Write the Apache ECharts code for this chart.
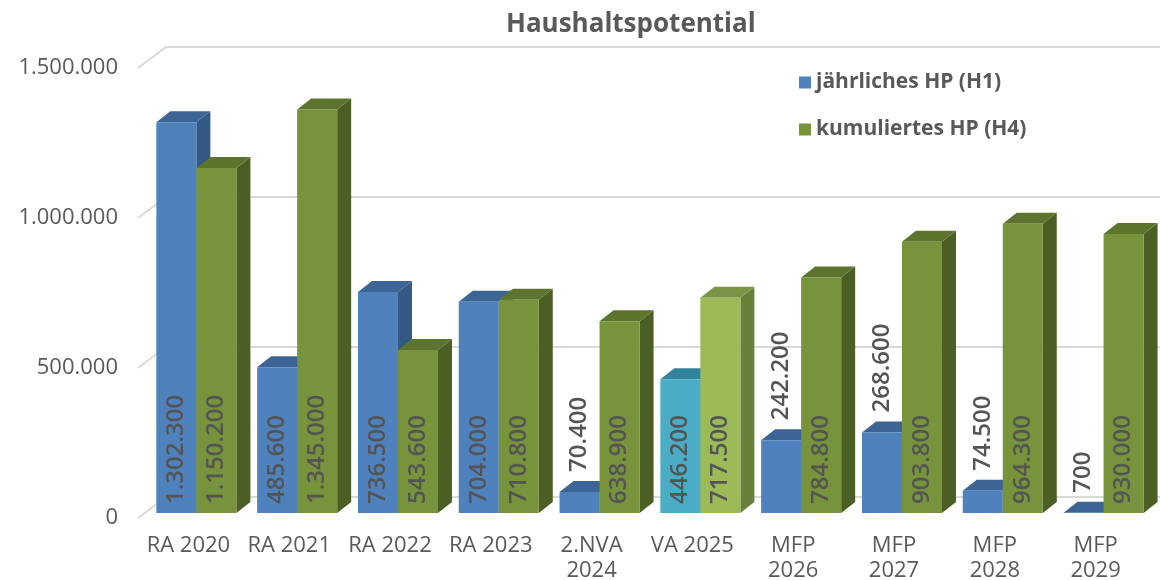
<!DOCTYPE html>
<html>
<head>
<meta charset="utf-8">
<title>Haushaltspotential</title>
<script src="https://cdn.jsdelivr.net/npm/echarts@6/dist/echarts.min.js"></script>
<style>
  html, body { margin: 0; padding: 0; background: #ffffff; }
  #chart { width: 1160px; height: 580px; }
</style>
</head>
<body>
<div id="chart"></div>
<script>
// Haushaltspotential: 3D-look grouped bars, drawn with custom series so the
// faces (front / side / top) follow the axis scale. ES5 only.
var categories = ['RA 2020', 'RA 2021', 'RA 2022', 'RA 2023', '2.NVA\n2024', 'VA 2025',
                  'MFP\n2026', 'MFP\n2027', 'MFP\n2028', 'MFP\n2029'];
var annualHP = [1302300, 485600, 736500, 704000, 70400, 446200, 242200, 268600, 74500, 700];
var cumulativeHP = [1150200, 1345000, 543600, 710800, 638900, 717500, 784800, 903800, 964300, 930000];
var yTicks = [0, 500000, 1000000, 1500000];
var seriesNames = ['jährliches HP (H1)', 'kumuliertes HP (H4)'];

(function () {
    var FONT = '"Open Sans", "DejaVu Sans", sans-serif';
    var TEXT = '#595959';
    var DEPTH_X = 14, DEPTH_Y = -11;      // bar depth
    var WALL_X = 28, WALL_Y = -21;        // back wall offset
    var LIFT = -5;                        // bars sit a bit behind the front plane
    var HIGHLIGHT = 5;                    // VA 2025 uses the lighter palette

    // [front, top, side]
    var palettes = [
        { normal: ['#4f81bd', '#3c6495', '#345985'], light: ['#4bacc6', '#31849b', '#2c768b'] },
        { normal: ['#77933c', '#5c742e', '#4b5f25'], light: ['#9bbb59', '#7a9545', '#67803a'] }
    ];

    function de(n) {
        return String(n).replace(/\B(?=(\d{3})+(?!\d))/g, '.');
    }

    function toPairs(arr) {
        var out = [];
        for (var i = 0; i < arr.length; i++) out.push([i, arr[i]]);
        return out;
    }

    function barRenderer(sIdx) {
        return function (params, api) {
            var i = api.value(0);
            var v = api.value(1);
            var base = api.coord([i, 0]);
            var top = api.coord([i, v]);
            var cw = api.size([1, 0])[0];
            var bw = cw * 0.397;
            var shift = cw * 0.079;
            var L = sIdx === 0 ? base[0] - bw + shift : base[0] + shift;
            var R = L + bw;
            var B = base[1] + LIFT;
            var T = top[1] + LIFT;
            var pal = i === HIGHLIGHT ? palettes[sIdx].light : palettes[sIdx].normal;
            var children = [
                { type: 'polygon', shape: { points: [[R, T], [R + DEPTH_X, T + DEPTH_Y], [R + DEPTH_X, B + DEPTH_Y], [R, B]] },
                  style: { fill: pal[2] } },
                { type: 'polygon', shape: { points: [[L, T], [R, T], [R + DEPTH_X, T + DEPTH_Y], [L + DEPTH_X, T + DEPTH_Y]] },
                  style: { fill: pal[1] } },
                { type: 'rect', shape: { x: L, y: T, width: bw, height: Math.max(B - T, 0) },
                  style: { fill: pal[0] } }
            ];
            var h = B - T;
            var ly = h > 110 ? B - 9 : T - 20;
            children.push({
                type: 'text', x: (L + R) / 2, y: ly, rotation: Math.PI / 2, z2: 20,
                style: { text: de(v), fill: '#545454', font: '600 24px ' + FONT, align: 'left', verticalAlign: 'middle' }
            });
            return { type: 'group', children: children };
        };
    }

    function wallRenderer(params, api) {
        var cs = params.coordSys;
        var y = api.coord([0, api.value(1)])[1];
        return {
            type: 'polyline',
            shape: { points: [[cs.x, y], [cs.x + WALL_X, y + WALL_Y], [cs.x + cs.width + 60, y + WALL_Y]] },
            style: { stroke: '#d9d9d9', lineWidth: 2, fill: null }
        };
    }

    var chart = echarts.init(document.getElementById('chart'), null, { renderer: 'canvas' });
    chart.setOption({
        animation: false,
        backgroundColor: '#ffffff',
        title: {
            text: 'Haushaltspotential',
            left: 501, top: 7,
            textStyle: { fontFamily: FONT, fontSize: 26, fontWeight: 'bold', color: TEXT }
        },
        legend: {
            orient: 'vertical',
            left: 794, top: 65,
            itemWidth: 12, itemHeight: 12, itemGap: 22,
            icon: 'rect',
            data: seriesNames,
            textStyle: { fontFamily: FONT, fontSize: 21, fontWeight: 'bold', color: TEXT, lineHeight: 25 }
        },
        grid: { left: 138, right: 14, top: 68, bottom: 62, containLabel: false, outerBoundsMode: 'none' },
        xAxis: {
            type: 'category',
            data: categories,
            axisLine: { show: false },
            axisTick: { show: false },
            splitLine: { show: false },
            axisLabel: { interval: 0, margin: 15, fontFamily: FONT, fontSize: 22, color: TEXT, lineHeight: 25 }
        },
        yAxis: {
            type: 'value',
            min: 0, max: 1500000, interval: 500000,
            axisLine: { show: false },
            axisTick: { show: false },
            splitLine: { show: false },
            axisLabel: {
                margin: 20, fontFamily: FONT, fontSize: 22, color: TEXT, padding: [5, 0, 0, 0],
                formatter: function (v) { return de(v); }
            }
        },
        series: [
            { type: 'custom', name: 'wall', silent: true, z: 1, clip: false,
              renderItem: wallRenderer, data: toPairs(yTicks).map(function (p) { return [0, p[1]]; }),
              encode: { x: 0, y: 1 } },
            { type: 'custom', name: seriesNames[0], z: 2, clip: false,
              itemStyle: { color: palettes[0].normal[0] },
              renderItem: barRenderer(0), data: toPairs(annualHP), encode: { x: 0, y: 1 } },
            { type: 'custom', name: seriesNames[1], z: 3, clip: false,
              itemStyle: { color: palettes[1].normal[0] },
              renderItem: barRenderer(1), data: toPairs(cumulativeHP), encode: { x: 0, y: 1 } }
        ]
    });
})();
</script>
</body>
</html>
